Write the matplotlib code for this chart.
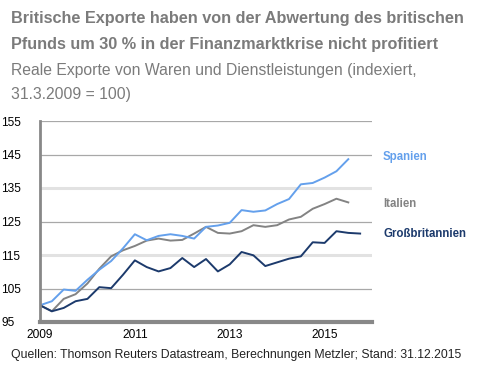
import numpy as np
import matplotlib
matplotlib.use('Agg')
import matplotlib.pyplot as plt

# quarterly index, 31.3.2009 = 100
quarters = np.arange(2009.0, 2016.0, 0.25)
spanien = [100.0, 101.2, 104.7, 104.3, 107.6, 110.6, 113.2, 117.0, 121.2, 119.4,
           120.7, 121.2, 120.7, 119.9, 123.4, 123.8, 124.6, 128.4, 127.9, 128.3,
           130.2, 131.7, 136.1, 136.5, 138.1, 140.0, 143.6]
italien = [100.0, 98.2, 101.9, 103.3, 106.5, 110.9, 114.6, 116.4, 117.7, 119.3,
           119.9, 119.3, 119.5, 121.4, 123.4, 121.6, 121.4, 122.1, 123.9, 123.4,
           123.9, 125.6, 126.4, 128.8, 130.2, 131.8, 130.7]
gb = [100.0, 98.2, 99.2, 101.2, 101.9, 105.4, 105.1, 109.1, 113.4, 111.4,
      110.1, 111.1, 114.1, 111.4, 113.8, 110.1, 112.2, 115.9, 114.9, 111.7,
      112.8, 113.9, 114.6, 118.8, 118.6, 122.1, 121.6, 121.4]
labels = ['Spanien', 'Italien', 'Großbritannien']
yticks = [95, 105, 115, 125, 135, 145, 155]
xticks = [2009, 2011, 2013, 2015]

c_es = '#64a0ec'
c_it = '#838383'
c_gb = '#1c3a6c'
grey = '#7b7b7b'

plt.rcParams['font.family'] = ['Liberation Sans', 'DejaVu Sans']

fig = plt.figure(figsize=(4.78, 3.71), dpi=100)
ax = fig.add_axes([40/478, 49/371, 332/478, 201/371])

for v in yticks:
    if v in (115, 135):
        ax.axhline(v, color='#e2e2e2', lw=2.2, zorder=0)
    elif v != 95:
        ax.axhline(v, color='#a8a8a8', lw=0.9, zorder=0)

ax.plot(quarters[:len(italien)], italien, color=c_it, lw=1.4)
ax.plot(quarters[:len(spanien)], spanien, color=c_es, lw=1.4)
ax.plot(quarters[:len(gb)], gb, color=c_gb, lw=1.4)

ax.set_xlim(2009, 2016.0)
ax.set_ylim(95, 155)
ax.set_yticks(yticks)
ax.set_xticks(xticks)
ax.set_xticklabels([str(x) for x in xticks], fontsize=8.6)
ax.set_yticklabels([str(y) for y in yticks], fontsize=8.6, ha='left')
ax.tick_params(axis='y', length=0, pad=28)
ax.tick_params(axis='x', length=0, pad=5)
for s in ['top', 'right']:
    ax.spines[s].set_visible(False)
ax.spines['left'].set_color('#888888')
ax.spines['left'].set_linewidth(2)
ax.spines['bottom'].set_color('#888888')
ax.spines['bottom'].set_linewidth(3)

# series labels right of the plot
ax.text(383/478, 1 - 157/371, labels[0], transform=fig.transFigure, color=c_es,
        fontsize=8.3, fontweight='bold', va='center')
ax.text(383/478, 1 - 204/371, labels[1], transform=fig.transFigure, color=c_it,
        fontsize=8.3, fontweight='bold', va='center')
ax.text(383/478, 1 - 234/371, labels[2], transform=fig.transFigure, color=c_gb,
        fontsize=8.3, fontweight='bold', va='center')

fig.text(11/478, 1 - 19/371, 'Britische Exporte haben von der Abwertung des britischen',
         fontsize=11.7, fontweight='bold', color=grey, va='center')
fig.text(11/478, 1 - 44/371, 'Pfunds um 30 % in der Finanzmarktkrise nicht profitiert',
         fontsize=11.7, fontweight='bold', color=grey, va='center')
fig.text(11/478, 1 - 71/371, 'Reale Exporte von Waren und Dienstleistungen (indexiert,',
         fontsize=11.3, color=grey, va='center')
fig.text(11/478, 1 - 95/371, '31.3.2009 = 100)',
         fontsize=11.3, color=grey, va='center')
fig.text(11/478, 1 - 355/371, 'Quellen: Thomson Reuters Datastream, Berechnungen Metzler; Stand: 31.12.2015',
         fontsize=8.8, color='#222222', va='center')

fig.savefig('out.png', dpi=100)
